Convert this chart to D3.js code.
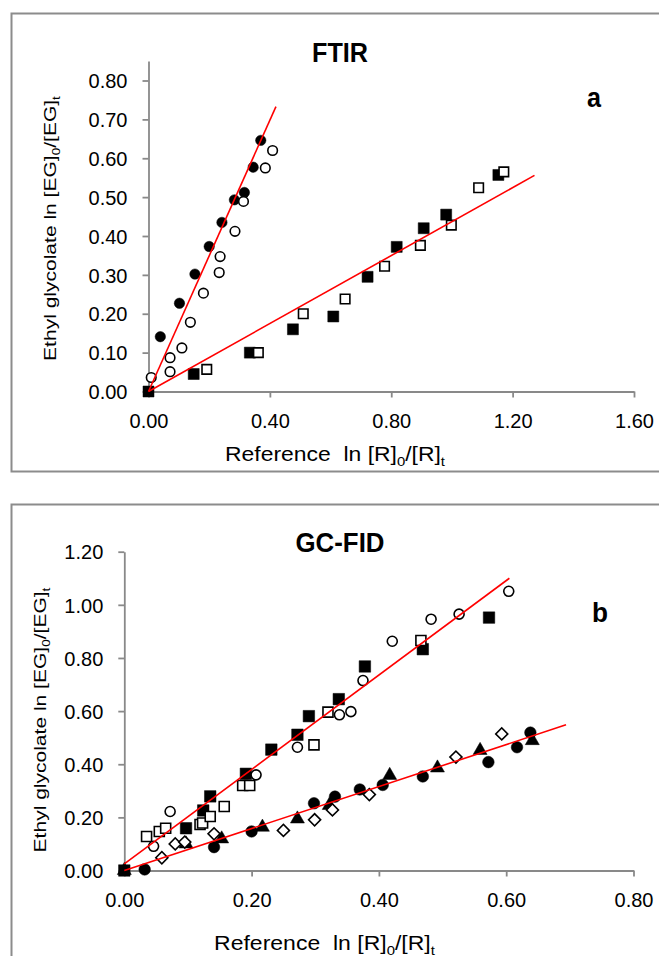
<!DOCTYPE html>
<html>
<head>
<meta charset="utf-8">
<script src="https://cdn.jsdelivr.net/npm/d3@7"></script>
<style>
  body { margin: 0; background: #fff; }
  svg { display: block; font-family: 'Liberation Sans', Arial, sans-serif; }
</style>
</head>
<body>
<svg id="chart" width="659" height="956"></svg>
<script>
// ---- panel a : FTIR ----
const ftirFilledCircles = [[0.039, 0.141], [0.102, 0.227], [0.153, 0.302], [0.2, 0.373], [0.242, 0.435],
  [0.283, 0.493], [0.316, 0.512], [0.345, 0.577], [0.370, 0.646]];
const ftirOpenCircles = [[0.009, 0.036], [0.071, 0.051], [0.071, 0.087], [0.110, 0.112], [0.138, 0.178],
  [0.181, 0.253], [0.233, 0.306], [0.236, 0.347], [0.285, 0.412], [0.313, 0.489], [0.385, 0.575], [0.409, 0.620]];
const ftirFilledSquares = [[0, 0], [0.149, 0.045], [0.334, 0.100], [0.476, 0.160], [0.609, 0.193],
  [0.722, 0.295], [0.818, 0.372], [0.907, 0.420], [0.981, 0.455], [1.153, 0.557]];
const ftirOpenSquares = [[0.192, 0.057], [0.362, 0.100], [0.510, 0.200], [0.648, 0.238], [0.778, 0.322],
  [0.896, 0.376], [0.998, 0.428], [1.088, 0.524], [1.171, 0.565]];
// fitted lines: [slope, intercept, x end]
const ftirFits = [[1.745, 0, 0.42], [0.437, 0, 1.272]];
const ftirXTicks = [0, 0.4, 0.8, 1.2, 1.6];
const ftirYTicks = [0, 0.1, 0.2, 0.3, 0.4, 0.5, 0.6, 0.7, 0.8];

// ---- panel b : GC-FID ----
const gcFilledSquares = [[0, 0], [0.097, 0.159], [0.124, 0.226], [0.135, 0.279], [0.191, 0.364],
  [0.231, 0.455], [0.272, 0.511], [0.290, 0.581], [0.337, 0.645], [0.378, 0.768], [0.469, 0.833], [0.573, 0.952]];
const gcOpenSquares = [[0.035, 0.128], [0.055, 0.147], [0.065, 0.159], [0.119, 0.173], [0.123, 0.179],
  [0.135, 0.203], [0.157, 0.241], [0.186, 0.320], [0.197, 0.320], [0.298, 0.473], [0.320, 0.596], [0.466, 0.866]];
const gcOpenCircles = [[0.046, 0.091], [0.072, 0.222], [0.207, 0.360], [0.272, 0.464], [0.338, 0.586],
  [0.356, 0.598], [0.375, 0.715], [0.421, 0.863], [0.482, 0.946], [0.526, 0.965], [0.604, 1.051]];
const gcFilledCircles = [[0.032, 0.004], [0.141, 0.088], [0.200, 0.147], [0.298, 0.253], [0.331, 0.278],
  [0.370, 0.305], [0.406, 0.322], [0.469, 0.354], [0.572, 0.408], [0.617, 0.464], [0.638, 0.519]];
const gcFilledTriangles = [[0, 0], [0.097, 0.100], [0.153, 0.119], [0.217, 0.163], [0.272, 0.194],
  [0.322, 0.245], [0.417, 0.358], [0.492, 0.386], [0.559, 0.452], [0.641, 0.489]];
const gcOpenDiamonds = [[0.059, 0.048], [0.080, 0.100], [0.095, 0.107], [0.141, 0.138], [0.250, 0.151],
  [0.299, 0.191], [0.327, 0.228], [0.385, 0.286], [0.521, 0.427], [0.593, 0.514]];
const gcFits = [[1.777, 0.025, 0.605], [0.79, 0, 0.694]];
const gcXTicks = [0, 0.2, 0.4, 0.6, 0.8];
const gcYTicks = [0, 0.2, 0.4, 0.6, 0.8, 1.0, 1.2];

const svg = d3.select('#chart');
const axisColor = '#898989';
const fmt = d3.format('.2f');

// panel frames
svg.append('rect').attr('x', 11.5).attr('y', 13.5).attr('width', 700).attr('height', 458)
  .attr('fill', 'none').attr('stroke', '#8c8c8c').attr('stroke-width', 2);
svg.append('rect').attr('x', 11.5).attr('y', 504.5).attr('width', 700).attr('height', 500)
  .attr('fill', 'none').attr('stroke', '#8c8c8c').attr('stroke-width', 2);

// text with subscripts, stretched along its baseline to a given length
function richText(parts, cx, cy, size, target, rotate, bold) {
  const t = svg.append('text')
    .attr('text-anchor', 'middle')
    .style('white-space', 'pre')
    .attr('font-size', size)
    .attr('font-weight', bold ? 'bold' : 'normal')
    .attr('fill', '#000');
  parts.forEach((p) => {
    if (p.sub) {
      t.append('tspan').attr('font-size', size * 0.65).attr('dy', size * 0.25).text(p.t);
    } else {
      t.append('tspan').attr('dy', p.after ? -size * 0.25 : 0).text(p.t);
    }
  });
  const len = t.node().getComputedTextLength();
  const s = target / len;
  t.attr('transform', 'translate(' + cx + ',' + cy + ') rotate(' + rotate + ') scale(' + s + ',1)');
  return t;
}

function drawAxes(x, y, xTicks, yTicks) {
  const y0 = y.range()[0];
  const x0 = x.range()[0];
  const gx = svg.append('g').attr('transform', 'translate(0,' + y0 + ')')
    .call(d3.axisBottom(x).tickValues(xTicks).tickFormat(fmt).tickSizeInner(6).tickSizeOuter(0).tickPadding(16));
  const gy = svg.append('g').attr('transform', 'translate(' + x0 + ',0)')
    .call(d3.axisLeft(y).tickValues(yTicks).tickFormat(fmt).tickSizeInner(6).tickSizeOuter(0).tickPadding(15));
  [gx, gy].forEach((g) => {
    g.select('.domain').attr('stroke', axisColor).attr('stroke-width', 1.8);
    g.selectAll('.tick line').attr('stroke', axisColor).attr('stroke-width', 1.8);
    g.selectAll('.tick text').attr('font-size', 20).attr('fill', '#000')
      .attr('font-family', "'Liberation Sans', Arial, sans-serif");
  });
  gy.selectAll('.tick text').attr('dy', '0.36em');
}

function drawSeries(x, y, data, shape, filled, size) {
  const sym = d3.symbol().type(shape).size(size);
  svg.append('g').selectAll('path')
    .data(data)
    .enter()
    .append('path')
    .attr('d', sym)
    .attr('transform', (d) => 'translate(' + x(d[0]) + ',' + y(d[1]) + ')')
    .attr('fill', filled ? '#000' : '#fff')
    .attr('stroke', '#000')
    .attr('stroke-width', filled ? 0.5 : 1.6);
}

function drawDiamonds(x, y, data, side) {
  svg.append('g').selectAll('rect')
    .data(data)
    .enter()
    .append('rect')
    .attr('x', -side / 2).attr('y', -side / 2)
    .attr('width', side).attr('height', side)
    .attr('transform', (d) => 'translate(' + x(d[0]) + ',' + y(d[1]) + ') rotate(45)')
    .attr('fill', '#fff')
    .attr('stroke', '#000')
    .attr('stroke-width', 1.6);
}

function drawFits(x, y, fits) {
  fits.forEach((f) => {
    svg.append('line')
      .attr('x1', x(0)).attr('y1', y(f[1]))
      .attr('x2', x(f[2])).attr('y2', y(f[1] + f[0] * f[2]))
      .attr('stroke', '#ff0000').attr('stroke-width', 1.6);
  });
}

const xLabelParts = [{ t: 'Reference  ln [R]' }, { t: '0', sub: true }, { t: '/[R]', after: true }, { t: 't', sub: true }];
const yLabelParts = [{ t: 'Ethyl glycolate ln [EG]' }, { t: '0', sub: true }, { t: '/[EG]', after: true }, { t: 't', sub: true }];

// ---------- panel a ----------
const xa = d3.scaleLinear().domain([0, 1.6]).range([148.5, 634]);
const ya = d3.scaleLinear().domain([0, 0.85]).range([391.5, 391.5 - 0.85 * 388.75]);
drawAxes(xa, ya, ftirXTicks, ftirYTicks);
drawSeries(xa, ya, ftirFilledCircles, d3.symbolCircle, true, Math.PI * 5.2 * 5.2);
drawSeries(xa, ya, ftirOpenCircles, d3.symbolCircle, false, Math.PI * 4.8 * 4.8);
drawSeries(xa, ya, ftirFilledSquares, d3.symbolSquare, true, 11 * 11);
drawSeries(xa, ya, ftirOpenSquares, d3.symbolSquare, false, 9.5 * 9.5);
drawFits(xa, ya, ftirFits);

richText([{ t: 'FTIR' }], 340, 62, 27, 56, 0, true);
richText([{ t: 'a' }], 594, 107, 28, 14, 0, true);
richText(xLabelParts, 335, 460.7, 20, 220, 0, false);
richText(yLabelParts, 56, 228.5, 16, 265, -90, false);

// ---------- panel b ----------
const xb = d3.scaleLinear().domain([0, 0.8]).range([124.3, 633.5]);
const yb = d3.scaleLinear().domain([0, 1.2]).range([870.5, 551.7]);
drawAxes(xb, yb, gcXTicks, gcYTicks);
drawSeries(xb, yb, gcFilledSquares, d3.symbolSquare, true, 11.5 * 11.5);
drawSeries(xb, yb, gcOpenSquares, d3.symbolSquare, false, 10 * 10);
drawSeries(xb, yb, gcOpenCircles, d3.symbolCircle, false, Math.PI * 5 * 5);
drawSeries(xb, yb, gcFilledCircles, d3.symbolCircle, true, Math.PI * 5.8 * 5.8);
drawSeries(xb, yb, gcFilledTriangles, d3.symbolTriangle, true, 85);
drawDiamonds(xb, yb, gcOpenDiamonds, 8.5);
drawFits(xb, yb, gcFits);

richText([{ t: 'GC-FID' }], 340, 552, 27, 89, 0, true);
richText([{ t: 'b' }], 600, 622, 28, 16, 0, true);
richText(xLabelParts, 324.5, 949.5, 20, 221, 0, false);
richText(yLabelParts, 46, 720, 16, 265, -90, false);
</script>
</body>
</html>
